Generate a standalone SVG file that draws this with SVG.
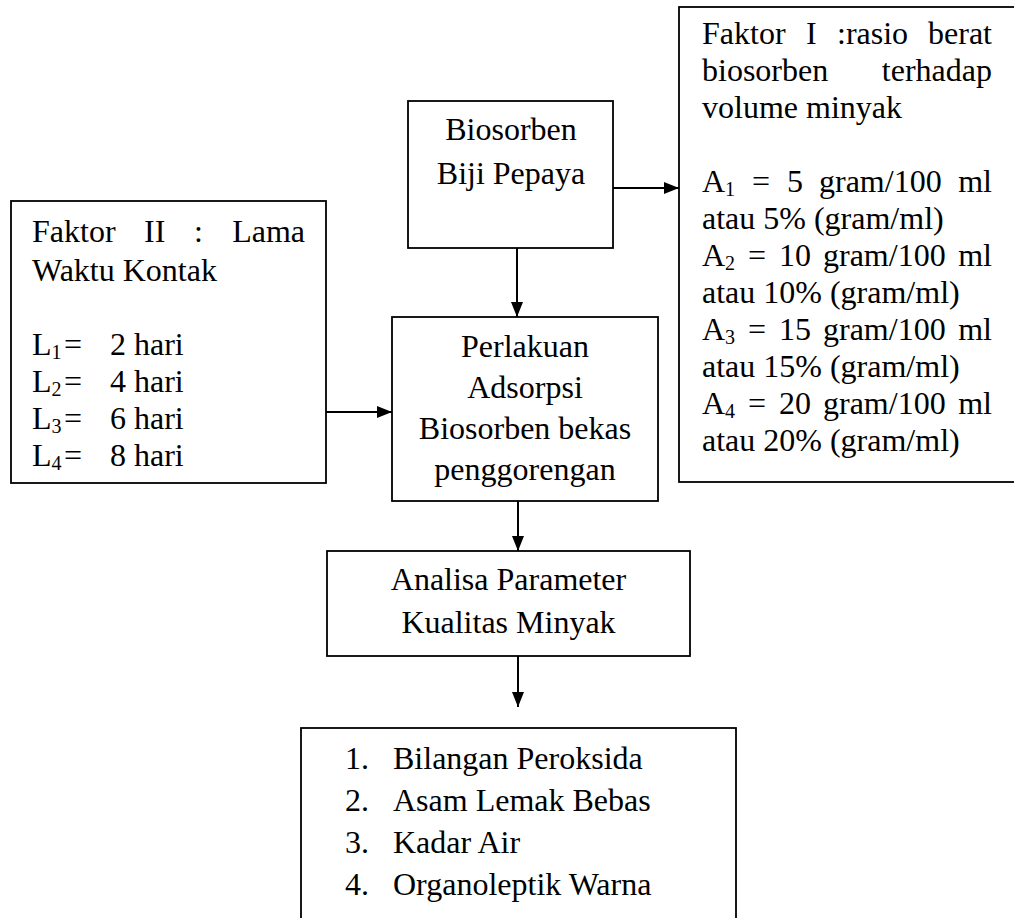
<svg xmlns="http://www.w3.org/2000/svg" width="1014" height="918" viewBox="0 0 1014 918">
<defs>
<style>
.box{fill:#fff;stroke:#000;stroke-width:1.8}
.t{font-family:"Liberation Serif","Times New Roman",serif;font-size:32px;fill:#000}
.c{text-anchor:middle}
.e{text-anchor:end}
.sub{font-size:20px}
.ln{stroke:#000;stroke-width:2;fill:none}
</style>
<marker id="ah" viewBox="0 0 15 12" refX="15" refY="6" markerWidth="15" markerHeight="12" markerUnits="userSpaceOnUse" orient="auto">
<path d="M0,0 L15,6 L0,12 Z" fill="#000"/>
</marker>
</defs>
<rect width="1014" height="918" fill="#fff"/>

<g id="faktor1">
<rect class="box" x="679" y="7" width="340" height="475"/>
<text class="t" y="44"><tspan x="702">Faktor</tspan><tspan x="806">I</tspan><tspan x="837">:rasio</tspan></text>
<text class="t e" x="992" y="44">berat</text>
<text class="t" x="702" y="81">biosorben</text>
<text class="t e" x="992" y="81">terhadap</text>
<text class="t" x="702" y="118">volume minyak</text>
<text class="t" y="192"><tspan x="702">A</tspan><tspan class="sub" dy="4">1</tspan><tspan x="752" dy="-4">=</tspan><tspan x="787">5</tspan><tspan x="819">gram/100</tspan></text>
<text class="t e" x="992" y="192">ml</text>
<text class="t" x="702" y="229">atau 5% (gram/ml)</text>
<text class="t" y="266"><tspan x="702">A</tspan><tspan class="sub" dy="4">2</tspan><tspan x="748" dy="-4">=</tspan><tspan x="779">10</tspan><tspan x="823">gram/100</tspan></text>
<text class="t e" x="992" y="266">ml</text>
<text class="t" x="702" y="303">atau 10% (gram/ml)</text>
<text class="t" y="340"><tspan x="702">A</tspan><tspan class="sub" dy="4">3</tspan><tspan x="748" dy="-4">=</tspan><tspan x="779">15</tspan><tspan x="823">gram/100</tspan></text>
<text class="t e" x="992" y="340">ml</text>
<text class="t" x="702" y="377">atau 15% (gram/ml)</text>
<text class="t" y="414"><tspan x="702">A</tspan><tspan class="sub" dy="4">4</tspan><tspan x="748" dy="-4">=</tspan><tspan x="779">20</tspan><tspan x="823">gram/100</tspan></text>
<text class="t e" x="992" y="414">ml</text>
<text class="t" x="702" y="451">atau 20% (gram/ml)</text>
</g>

<g id="biosorben">
<rect class="box" x="408" y="101" width="205" height="147"/>
<text class="t c" x="511" y="140">Biosorben</text>
<text class="t c" x="511" y="184">Biji Pepaya</text>
</g>

<g id="faktor2">
<rect class="box" x="11" y="201" width="315" height="282"/>
<text class="t" y="242"><tspan x="32">Faktor</tspan><tspan x="144">II</tspan><tspan x="194">:</tspan></text>
<text class="t e" x="305" y="242">Lama</text>
<text class="t" x="32" y="281">Waktu Kontak</text>
<text class="t" y="355"><tspan x="32">L</tspan><tspan class="sub" dy="4">1</tspan><tspan x="64" dy="-4">=</tspan><tspan x="110">2 hari</tspan></text>
<text class="t" y="392"><tspan x="32">L</tspan><tspan class="sub" dy="4">2</tspan><tspan x="64" dy="-4">=</tspan><tspan x="110">4 hari</tspan></text>
<text class="t" y="429"><tspan x="32">L</tspan><tspan class="sub" dy="4">3</tspan><tspan x="64" dy="-4">=</tspan><tspan x="110">6 hari</tspan></text>
<text class="t" y="466"><tspan x="32">L</tspan><tspan class="sub" dy="4">4</tspan><tspan x="64" dy="-4">=</tspan><tspan x="110">8 hari</tspan></text>
</g>

<g id="perlakuan">
<rect class="box" x="392" y="317" width="266" height="184"/>
<text class="t c" x="525" y="357">Perlakuan</text>
<text class="t c" x="525" y="398">Adsorpsi</text>
<text class="t c" x="525" y="439">Biosorben bekas</text>
<text class="t c" x="525" y="480">penggorengan</text>
</g>

<g id="analisa">
<rect class="box" x="327" y="551" width="363" height="105"/>
<text class="t c" x="508.5" y="590">Analisa Parameter</text>
<text class="t c" x="508.5" y="633">Kualitas Minyak</text>
</g>

<g id="parameter">
<rect class="box" x="301" y="728" width="435" height="200"/>
<text class="t" y="769"><tspan x="345">1.</tspan><tspan x="393">Bilangan Peroksida</tspan></text>
<text class="t" y="811"><tspan x="345">2.</tspan><tspan x="393">Asam Lemak Bebas</tspan></text>
<text class="t" y="853"><tspan x="345">3.</tspan><tspan x="393">Kadar Air</tspan></text>
<text class="t" y="895"><tspan x="345">4.</tspan><tspan x="393">Organoleptik Warna</tspan></text>
</g>

<g id="connectors">
<line class="ln" x1="613" y1="188" x2="679" y2="188" marker-end="url(#ah)"/>
<line class="ln" x1="517" y1="248" x2="517" y2="317" marker-end="url(#ah)"/>
<line class="ln" x1="326" y1="412" x2="392" y2="412" marker-end="url(#ah)"/>
<line class="ln" x1="518" y1="501" x2="518" y2="551" marker-end="url(#ah)"/>
<line class="ln" x1="518" y1="656" x2="518" y2="707" marker-end="url(#ah)"/>
</g>
</svg>
